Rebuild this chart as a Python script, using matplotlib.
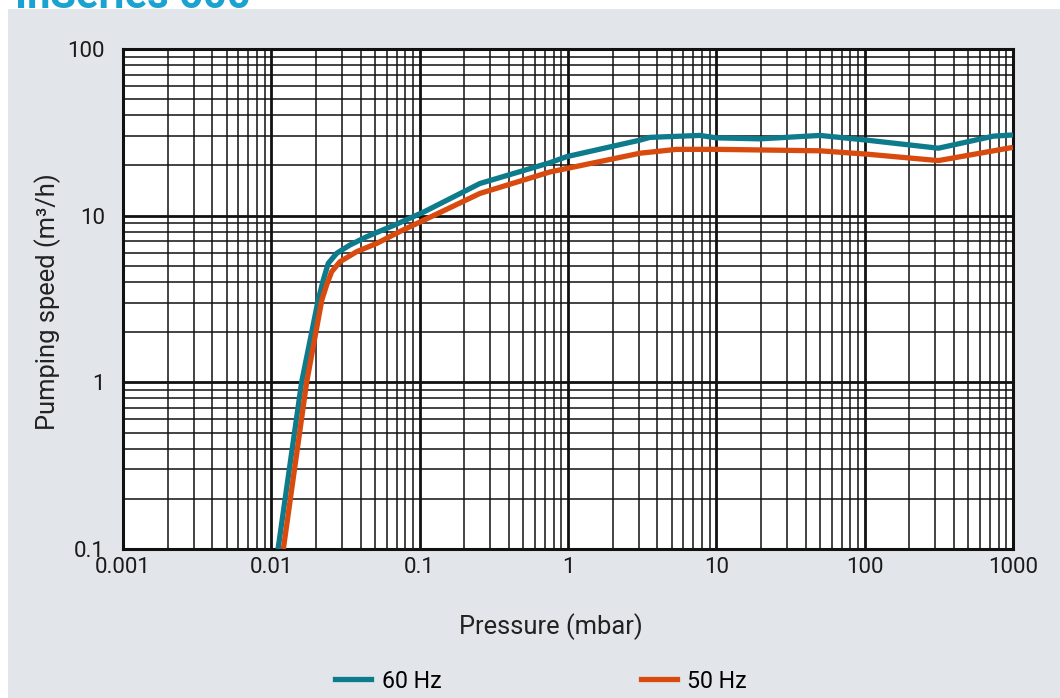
import matplotlib
matplotlib.use("Agg")
import matplotlib.pyplot as plt
from matplotlib.patches import Rectangle
from matplotlib.lines import Line2D
from matplotlib.ticker import LogLocator, FixedFormatter, FixedLocator, NullFormatter

# ---- data ----
p60 = [0.0111, 0.0160, 0.0207, 0.0224, 0.0242, 0.0276, 0.0339, 0.0440, 0.0700, 0.1074,
       0.255, 0.757, 0.98, 3.06, 3.57, 7.76, 10, 19.7, 50, 103, 314, 738, 1000]
s60 = [0.1, 1.0, 3.12, 4.11, 5.18, 5.95, 6.67, 7.48, 8.9, 10.56,
       15.6, 20.8, 22.6, 28.4, 29.5, 30.3, 29.3, 28.9, 30.3, 28.4, 25.4, 30.0, 30.5]

p50 = [0.01205, 0.0173, 0.0219, 0.0236, 0.0255, 0.0290, 0.0376, 0.0514, 0.0737, 0.1074,
       0.255, 0.757, 0.98, 3.06, 5.4, 10, 50, 103, 314, 1000]
s50 = [0.1, 1.0, 3.12, 3.84, 4.61, 5.29, 6.08, 6.82, 8.04, 9.42,
       13.6, 18.3, 19.2, 23.7, 25.0, 25.0, 24.5, 23.4, 21.4, 25.7]

x_ticks = [0.001, 0.01, 0.1, 1, 10, 100, 1000]
x_tick_labels = ["0.001", "0.01", "0.1", "1", "10", "100", "1000"]
y_ticks = [0.1, 1, 10, 100]
y_tick_labels = ["0.1", "1", "10", "100"]
series_labels = ["60 Hz", "50 Hz"]

# ---- style ----
W, H = 1060, 698
TEAL = "#0d7b8b"
ORANGE = "#d94a0f"
BG = "#e2e5ea"
tick_font = ["Liberation Sans Narrow", "Roboto", "DejaVu Sans"]
label_font = ["Roboto", "DejaVu Sans"]

fig = plt.figure(figsize=(W / 100, H / 100), dpi=100)
fig.patch.set_facecolor("white")
fig.patches.append(Rectangle((8 / W, 0), (W - 8) / W, (H - 9) / H,
                             transform=fig.transFigure, facecolor=BG,
                             edgecolor="none", zorder=-10))
# cut-off title at the very top
fig.text(15 / W, 1 - 8 / H, "InSeries 600", color="#1aa3d1", fontsize=30,
         fontweight="bold", family=label_font, va="baseline", ha="left")

ax = fig.add_axes([123 / W, 1 - 549 / H, (1013 - 123) / W, (549 - 49) / H])
ax.set_facecolor("white")
ax.set_xscale("log")
ax.set_yscale("log")
ax.set_xlim(0.001, 1000)
ax.set_ylim(0.1, 100)

ax.xaxis.set_major_locator(FixedLocator(x_ticks))
ax.xaxis.set_major_formatter(FixedFormatter(x_tick_labels))
ax.yaxis.set_major_locator(FixedLocator(y_ticks))
ax.yaxis.set_major_formatter(FixedFormatter(y_tick_labels))
ax.xaxis.set_minor_locator(LogLocator(base=10, subs=range(2, 10), numticks=20))
ax.yaxis.set_minor_locator(LogLocator(base=10, subs=range(2, 10), numticks=20))
ax.xaxis.set_minor_formatter(NullFormatter())
ax.yaxis.set_minor_formatter(NullFormatter())

ax.grid(which="major", color="#111111", linewidth=2.0)
ax.grid(which="minor", color="#111111", linewidth=1.1)
ax.set_axisbelow(True)
ax.tick_params(which="both", length=0)
ax.tick_params(axis="x", pad=6)
ax.tick_params(axis="y", pad=13)
for lab in ax.get_xticklabels() + ax.get_yticklabels():
    lab.set_family(tick_font)
    lab.set_fontsize(16)
    lab.set_color("#1a1a1a")
for sp in ax.spines.values():
    sp.set_linewidth(2.2)
    sp.set_color("#111111")

l60, = ax.plot(p60, s60, color=TEAL, linewidth=3.8, solid_joinstyle="round",
               solid_capstyle="butt", zorder=3)
l50, = ax.plot(p50, s50, color=ORANGE, linewidth=3.8, solid_joinstyle="round",
               solid_capstyle="butt", zorder=3)

fig.text(551 / W, 1 - 627 / H, "Pressure (mbar)", ha="center", va="center",
         fontsize=18.4, family=label_font, color="#222222")
fig.text(48 / W, 1 - 302 / H, "Pumping speed (m\u00b3/h)", ha="center", va="center",
         rotation=90, fontsize=18.4, family=label_font, color="#222222")

h60 = Line2D([], [], color=TEAL, linewidth=3.8)
h50 = Line2D([], [], color=ORANGE, linewidth=3.8)
fig.legend([h60, h50], series_labels, loc="center", bbox_to_anchor=(541 / W, 1 - 681 / H),
           ncol=2, frameon=False, handlelength=1.55, handletextpad=0.45,
           columnspacing=8.6, prop={"family": label_font, "size": 16.7})

fig.savefig("out.png", dpi=100, facecolor=fig.get_facecolor())
